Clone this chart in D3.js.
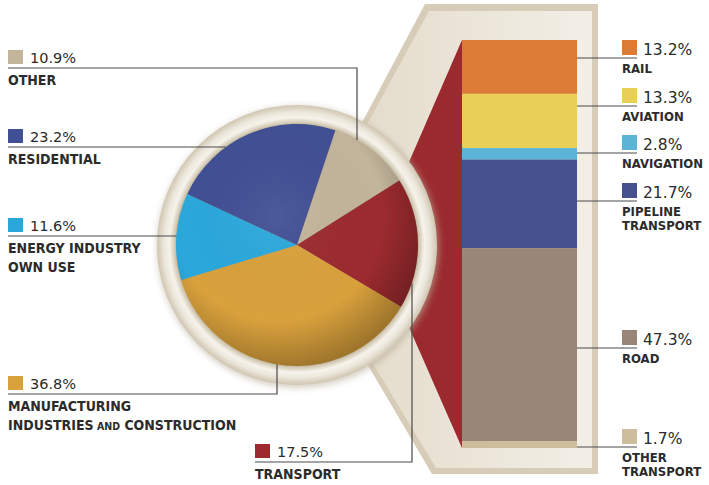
<!DOCTYPE html>
<html>
<head>
<meta charset="utf-8">
<script src="https://cdn.jsdelivr.net/npm/d3@7"></script>
<style>
  body { margin: 0; background: #fff; }
  svg { display: block; }
  .pct { font-family: 'DejaVu Sans', sans-serif; fill: #2b2b2b; }
  .lab { font-family: 'Liberation Sans Narrow', 'DejaVu Sans Condensed', sans-serif; font-weight: bold; fill: #2b2b2b; }
</style>
</head>
<body>
<svg id="drawing_region"></svg>
<script>
// energy use by sector (pie), in pie order clockwise
const sectors = ['OTHER', 'TRANSPORT', 'MANUFACTURING', 'ENERGY', 'RESIDENTIAL'];
const sectorShare = [10.9, 17.5, 36.8, 11.6, 23.2];
const sectorLabels = [['OTHER'], ['TRANSPORT'], ['MANUFACTURING', 'INDUSTRIES AND CONSTRUCTION'], ['ENERGY INDUSTRY', 'OWN USE'], ['RESIDENTIAL']];
const sectorColors = ['#c3b59b', '#9c2b2f', '#d9a13c', '#2ba8db', '#414f94'];

// breakdown of transport (stacked bar), top to bottom
const modes = ['RAIL', 'AVIATION', 'NAVIGATION', 'PIPELINE TRANSPORT', 'ROAD', 'OTHER TRANSPORT'];
const modeShare = [13.2, 13.3, 2.8, 21.7, 47.3, 1.7];
const modeLabels = [['RAIL'], ['AVIATION'], ['NAVIGATION'], ['PIPELINE', 'TRANSPORT'], ['ROAD'], ['OTHER', 'TRANSPORT']];
const modeColors = ['#dc7b36', '#e8cf57', '#5bb3d5', '#46518f', '#9a8679', '#cdbd9d'];

const W = 709, H = 485;
const cx = 297, cy = 245, R = 121, ringR = 140;

const svg = d3.select('#drawing_region').attr('width', W).attr('height', H);
const defs = svg.append('defs');

// gradients
const shade = defs.append('radialGradient').attr('id', 'shade')
    .attr('cx', '42%').attr('cy', '38%').attr('r', '64%');
shade.append('stop').attr('offset', '0%').attr('stop-color', '#fff').attr('stop-opacity', 0.06);
shade.append('stop').attr('offset', '68%').attr('stop-color', '#000').attr('stop-opacity', 0);
shade.append('stop').attr('offset', '100%').attr('stop-color', '#000').attr('stop-opacity', 0.28);

const ring = defs.append('radialGradient').attr('id', 'ring')
    .attr('gradientUnits', 'userSpaceOnUse').attr('cx', cx).attr('cy', cy).attr('r', ringR);
[[0.85, '#a99d85'], [0.875, '#d3c9b4'], [0.91, '#f6f3ec'], [0.95, '#ece7dc'], [1, '#cfc5b0']]
    .forEach(s => ring.append('stop').attr('offset', s[0]).attr('stop-color', s[1]));

const frameG = defs.append('linearGradient').attr('id', 'frameFill').attr('x1', 0).attr('x2', 1).attr('y1', 0).attr('y2', 0);
frameG.append('stop').attr('offset', '0%').attr('stop-color', '#e4dccb');
frameG.append('stop').attr('offset', '100%').attr('stop-color', '#f3efe7');

defs.append('filter').attr('id', 'blur').append('feGaussianBlur').attr('stdDeviation', 3);

// frame behind the bar
const frameOuter = [[425, 4], [598, 4], [598, 474], [432, 474], [366, 362], [358, 130]];
const frameInner = [[429, 11], [592, 11], [592, 468], [436, 468], [372, 362], [364, 130]];
svg.append('polygon').attr('points', frameOuter.join(' ')).attr('fill', '#d6ccb8');
svg.append('polygon').attr('points', frameInner.join(' ')).attr('fill', 'url(#frameFill)');

// stacked bar
const bx0 = 462, bx1 = 577;
const y = d3.scaleLinear().domain([0, 100]).range([40, 448]);
const stack = d3.cumsum(modeShare);
const segs = modeShare.map((v, i) => ({ v, i, y0: stack[i] - v, y1: stack[i] }));

// red wedge from pie to bar
svg.append('polygon')
    .attr('points', [[bx0, y(0)], [bx0, y(100)], [cx + 76, cy]].join(' '))
    .attr('fill', '#9b2a2e');

svg.append('g').selectAll('rect').data(segs).enter().append('rect')
    .attr('x', bx0).attr('width', bx1 - bx0)
    .attr('y', d => y(d.y0)).attr('height', d => y(d.y1) - y(d.y0))
    .attr('fill', d => modeColors[d.i]);

// ring and pie
svg.append('circle').attr('cx', cx + 1).attr('cy', cy + 2).attr('r', ringR + 1)
    .attr('fill', '#b9b09c').attr('filter', 'url(#blur)').attr('opacity', 0.6);
svg.append('circle').attr('cx', cx).attr('cy', cy).attr('r', ringR).attr('fill', 'url(#ring)');

const pie = d3.pie().sort(null).value(d => d)
    .startAngle(18.5 * Math.PI / 180).endAngle(18.5 * Math.PI / 180 + 2 * Math.PI);
const arc = d3.arc().innerRadius(0).outerRadius(R);
const pg = svg.append('g').attr('transform', `translate(${cx},${cy})`);
pg.selectAll('path').data(pie(sectorShare)).enter().append('path')
    .attr('d', arc).attr('fill', d => sectorColors[d.index]);
pg.append('circle').attr('r', R).attr('fill', 'url(#shade)');

// left legend
const leftLegend = [
    { x: 8, ly: 68, elbowX: 357 },
    { x: 255, ly: 462, elbowX: 412 },
    { x: 8, ly: 394, elbowX: 277 },
    { x: 8, ly: 236 },
    { x: 8, ly: 147 }
];
const lineColor = '#4a4a4a';
const lg = svg.append('g');
leftLegend.forEach((L, i) => {
    let pts;
    if (L.elbowX !== undefined) {
        const dx = L.elbowX - cx;
        const h = Math.sqrt(R * R - dx * dx);
        const ey = L.ly < cy ? cy - h : cy + h;
        pts = [[L.x, L.ly], [L.elbowX, L.ly], [L.elbowX, ey]];
    } else {
        const dy = L.ly - cy;
        const ex = cx - Math.sqrt(R * R - dy * dy);
        pts = [[L.x, L.ly], [ex, L.ly]];
    }
    lg.append('polyline').attr('points', pts.join(' '))
        .attr('fill', 'none').attr('stroke', lineColor).attr('stroke-width', 1.2);
    lg.append('rect').attr('x', L.x).attr('y', L.ly - 18).attr('width', 15).attr('height', 14)
        .attr('fill', sectorColors[i]);
    lg.append('text').attr('class', 'pct').attr('x', L.x + 22).attr('y', L.ly - 5)
        .attr('font-size', 14.5).text(sectorShare[i].toFixed(1) + '%');
    sectorLabels[i].forEach((line, k) => {
        const t = lg.append('text').attr('class', 'lab').attr('x', L.x)
            .attr('y', L.ly + 17 + k * 19).attr('font-size', 14);
        line.split(' ').forEach((w, j) => {
            t.append('tspan').attr('font-size', w === 'AND' ? 10.5 : null)
                .text((j ? ' ' : '') + w);
        });
    });
});

// right legend
const rightLy = [58, 106, 153, 201, 348, 447];
const rx = 622;
const rg = svg.append('g');
modeShare.forEach((v, i) => {
    const ly = rightLy[i];
    rg.append('line').attr('x1', bx1).attr('x2', rx + 15).attr('y1', ly).attr('y2', ly)
        .attr('stroke', lineColor).attr('stroke-width', 1.2);
    rg.append('rect').attr('x', rx).attr('y', ly - 18).attr('width', 15).attr('height', 15)
        .attr('fill', modeColors[i]);
    rg.append('text').attr('class', 'pct').attr('x', rx + 21).attr('y', ly - 3)
        .attr('font-size', 15.5).text(v.toFixed(1) + '%');
    modeLabels[i].forEach((line, k) => {
        rg.append('text').attr('class', 'lab').attr('x', rx)
            .attr('y', ly + 15 + k * 14).attr('font-size', 13).text(line);
    });
});
</script>
</body>
</html>
